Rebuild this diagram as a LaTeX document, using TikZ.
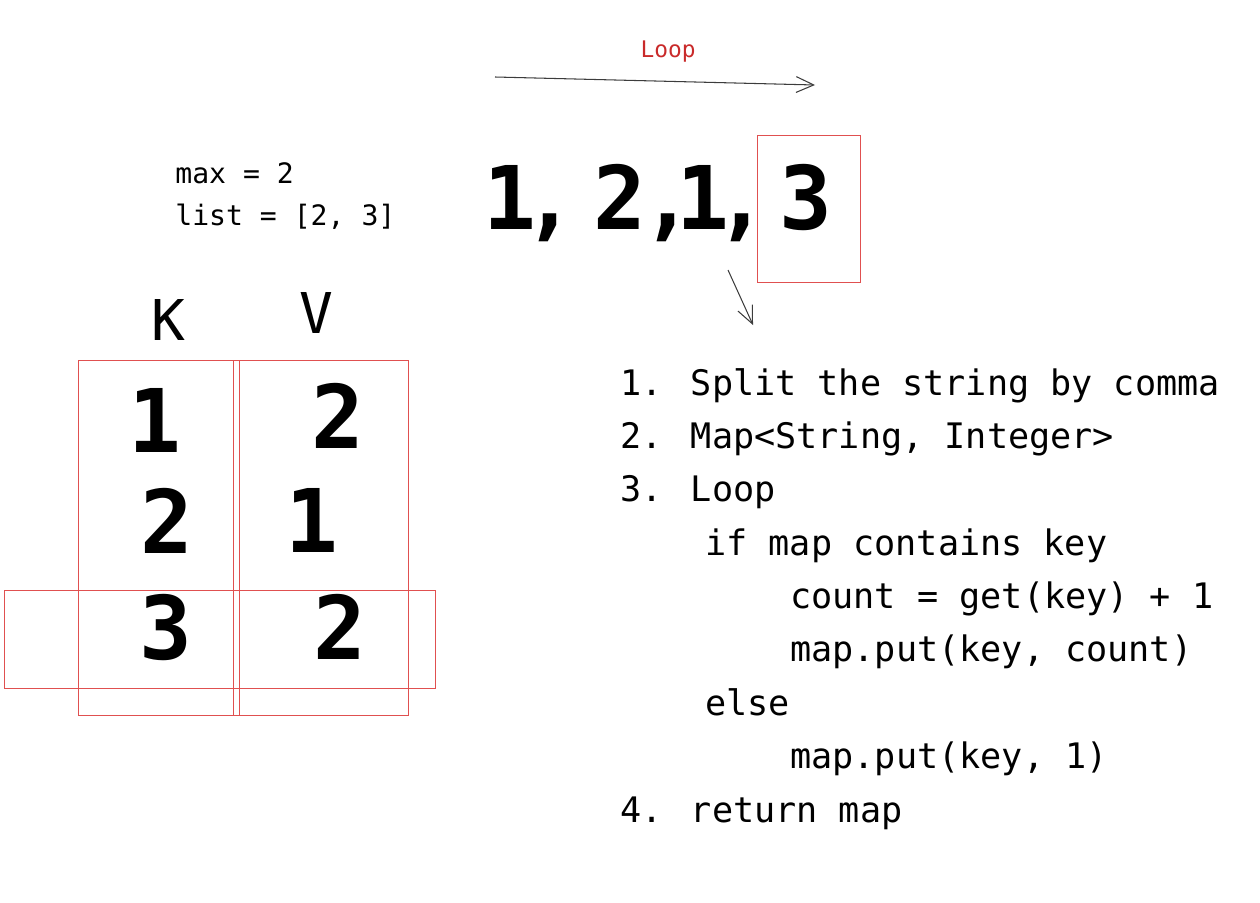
\documentclass[tikz,border=0pt]{standalone}
\usepackage{fontspec}
\newfontfamily\handfont{DejaVu Sans Mono}
\usepackage{xcolor}
\usetikzlibrary{arrows.meta, positioning}
\definecolor{sketchred}{RGB}{224,80,80}
\definecolor{loopred}{RGB}{201,42,42}
\definecolor{inkgray}{RGB}{60,60,60}

\begin{document}
\begin{tikzpicture}[
    x=0.02cm, y=-0.02cm,
    steptext/.style={font=\handfont\fontsize{20}{24}\selectfont,
                     anchor=base west, inner sep=0pt},
    note/.style={font=\handfont\fontsize{16}{19}\selectfont,
                 anchor=base west, inner sep=0pt},
    digit/.style={font=\handfont\bfseries\fontsize{50}{60}\selectfont,
                  anchor=base, inner sep=0pt},
    header/.style={font=\handfont\fontsize{32}{36}\selectfont,
                   anchor=base, inner sep=0pt},
    redbox/.style={draw=sketchred, line width=0.5pt},
    arrow/.style={-{Straight Barb[length=10pt, width=9pt]}, draw=inkgray,
                  line width=0.6pt},
]
\useasboundingbox (0,0) rectangle (1260,902);

% Loop label and arrow
\node[font=\handfont\fontsize{13}{16}\selectfont, text=loopred, anchor=base]
    (looplabel) at (668,58) {Loop};
\coordinate (looptail) at (495,77);
\coordinate (loophead) at (815,85);

% Notes
\node[note] (maxnote) at (175,184) {max = 2};
\node[note] (listnote) at (175,225) {list = [2, 3]};

% Input string
\node[digit] (tokA) at (510,230) {1};
\node[digit] (commaA) at (550,230) {,};
\node[digit] (tokB) at (620,230) {2};
\node[digit] (commaB) at (668,230) {,};
\node[digit] (tokC) at (703,230) {1};
\node[digit] (commaC) at (742,230) {,};
\node[digit] (tokD) at (806,230) {3};
\draw[redbox] (757,135) rectangle (860,282);

% Steps
\coordinate (splittail) at (728,270);
\coordinate (splithead) at (753,325);
\node[steptext] (stepA) at (620,395) {1. Split the string by comma};
\node[steptext] (stepB) at (620,448) {2. Map<String, Integer>};
\node[steptext] (stepC) at (620,501) {3. Loop};
\node[steptext] (ifline) at (705,555) {if map contains key};
\node[steptext] (countline) at (790,608) {count = get(key) + 1};
\node[steptext] (putline) at (790,661) {map.put(key, count)};
\node[steptext] (elseline) at (705,715) {else};
\node[steptext] (putone) at (790,768) {map.put(key, 1)};
\node[steptext] (stepD) at (620,822) {4. return map};

% Map table
\node[header] (keyhead) at (168,340) {K};
\node[header] (valhead) at (316,333) {V};
\draw[redbox] (78,360) rectangle (239,715);
\draw[redbox] (233,360) rectangle (408,715);
\draw[redbox] (4,590) rectangle (435,688);
\node[digit] (keyA) at (155,452) {1};
\node[digit] (valA) at (338,448) {2};
\node[digit] (keyB) at (167,553) {2};
\node[digit] (valB) at (312,552) {1};
\node[digit] (keyC) at (166,659) {3};
\node[digit] (valC) at (340,659) {2};

% Arrows
\draw[arrow] (looptail) -- (loophead);
\draw[arrow] (splittail) -- (splithead);

\end{tikzpicture}
\end{document}
